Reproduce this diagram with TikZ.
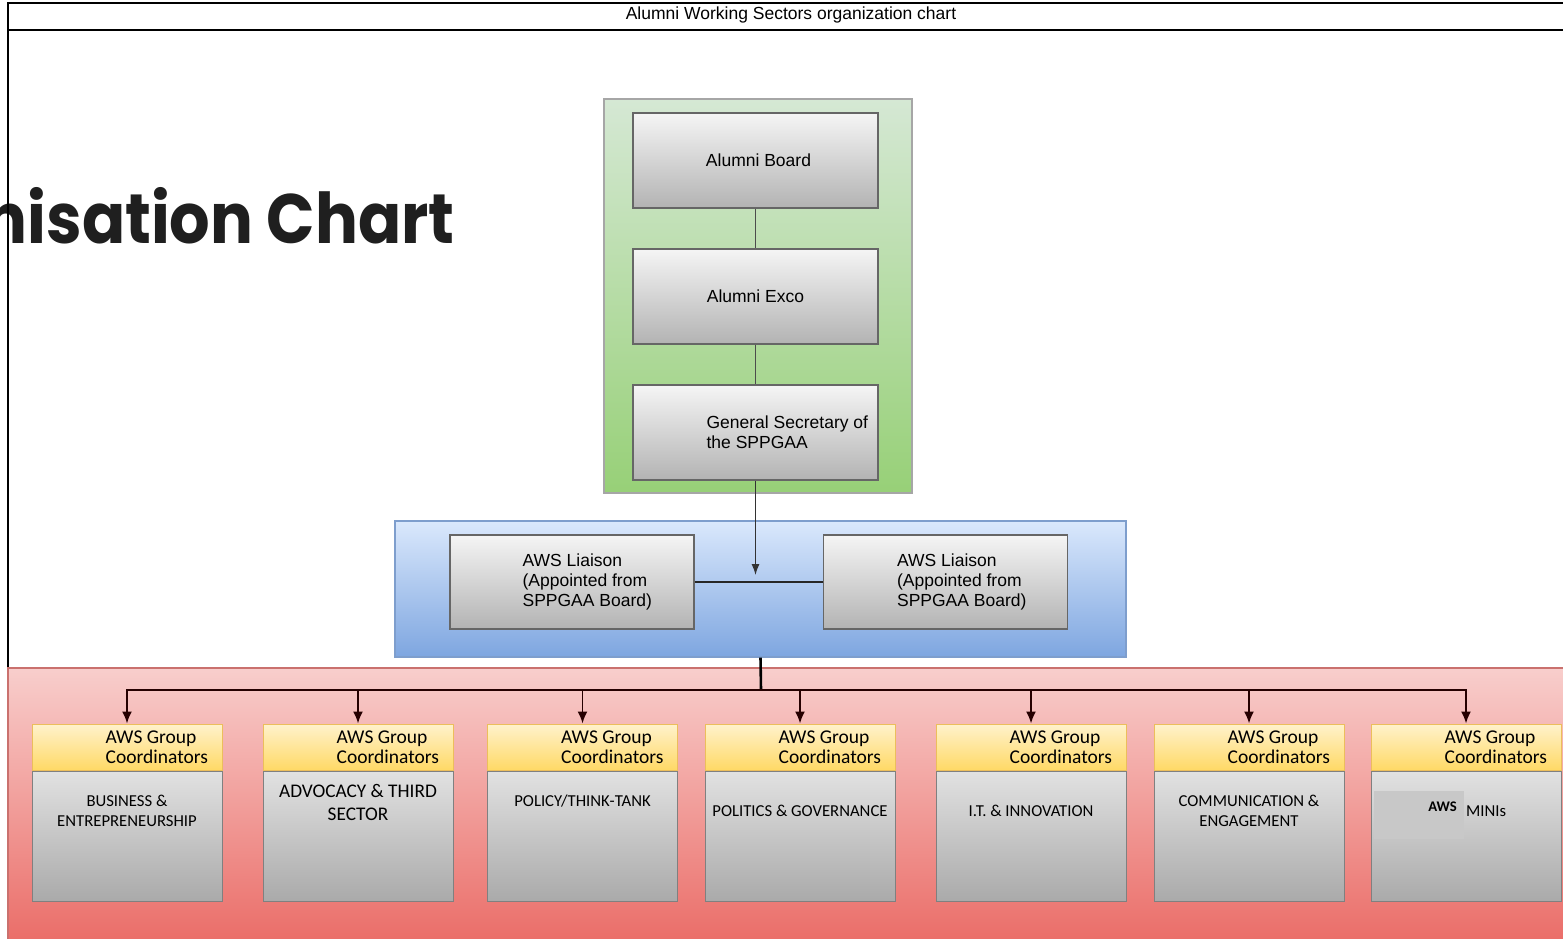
\documentclass[tikz,border=0pt]{standalone}
\usepackage{fontspec}
\setmainfont{Liberation Sans}
\newfontfamily\calfont{Carlito}
\newfontfamily\bigfont{Poppins}
\usetikzlibrary{positioning,arrows.meta}
\definecolor{grntop}{HTML}{D5E8D4}
\definecolor{grnbot}{HTML}{97D077}
\definecolor{blutop}{HTML}{DAE8FC}
\definecolor{blubot}{HTML}{7EA6E0}
\definecolor{redtop}{HTML}{F8CECC}
\definecolor{redbot}{HTML}{EA6B66}
\definecolor{yeltop}{HTML}{FFF2CC}
\definecolor{yelbot}{HTML}{FFD966}
\definecolor{boxtop}{HTML}{F5F5F5}
\definecolor{boxbot}{HTML}{B3B3B3}
\definecolor{minibox}{HTML}{C8C8C8}

\begin{document}
\begin{tikzpicture}[x=1pt,y=-1pt]

          % Setup the styles for the boxes
          \tikzset{panel/.style={rectangle,
                                 line width=1.2pt,
                                 inner sep=0pt},
                   office/.style={rectangle,
                                  draw=black!60,
                                  line width=1.2pt,
                                  top color=boxtop,
                                  bottom color=boxbot,
                                  minimum width=245pt,
                                  minimum height=95pt,
                                  inner sep=0pt,
                                  font=\fontsize{17.5}{21}\selectfont},
                   otext/.style={anchor=west, inner sep=0pt, align=left,
                                 font=\fontsize{17.5}{20}\selectfont},
                   htext/.style={anchor=west, xshift=74pt, inner sep=0pt, align=left,
                                 font=\calfont\fontsize{19.5}{20}\selectfont},
                   head/.style={rectangle,
                                draw=yelbot!70!brown,
                                line width=1pt,
                                top color=yeltop,
                                bottom color=yelbot,
                                minimum width=190pt,
                                minimum height=46pt,
                                inner sep=0pt,
                                label={[htext]west:AWS Group\\Coordinators}},
                   sector/.style={rectangle,
                                  draw=black!50,
                                  line width=1pt,
                                  top color=boxtop!92!black,
                                  bottom color=boxbot!95!black,
                                  minimum width=190pt,
                                  minimum height=130pt,
                                  inner sep=0pt},
                   btext/.style={align=center, inner sep=0pt,
                                 font=\calfont\fontsize{16.7}{20}\selectfont},
                   feed/.style={-{Latex[length=12pt,width=10pt]}, line width=1.8pt, draw=black!85!red}}
          \useasboundingbox (0,0) rectangle (1563,939);

          % Page frame and headings
          \node[anchor=base east, inner sep=0pt, text=black!88,
                font=\bigfont\bfseries\fontsize{70}{70}\selectfont] (big) at (455,243)
                {\scalebox{0.91}[1]{nisation Chart}};
          \node[font=\fontsize{17.5}{18}\selectfont] (title) at (791,15) {Alumni Working Sectors organization chart};
          \draw[line width=1.2pt] (1570,3) -- (8,3) -- (8,668);
          \draw[line width=1.2pt] (8,30) -- (1570,30);

          % Draw the containers
          \node[panel, draw=redbot!70!gray, top color=redtop, bottom color=redbot,
                minimum width=1570pt, minimum height=280pt] (sectors) at (793,808) {};
          \node[panel, draw=blubot!80!gray, top color=blutop, bottom color=blubot,
                minimum width=731pt, minimum height=136pt] (aws) at (760.5,589) {};
          \node[panel, draw=gray!70, top color=grntop, bottom color=grnbot,
                minimum width=308pt, minimum height=394pt] (alumni) at (758,296) {};

          % Draw the alumni offices
          \node[office] (ab) at (755.5,160.5) {\hspace*{6pt}Alumni Board};
          \node[office] (ax) at (755.5,296.5) {Alumni Exco};
          \node[office] (gs) at (755.5,432.5) {};
          \node[otext] (gst) at ([xshift=74pt]gs.west) {General Secretary of\\the SPPGAA};

          % Draw the liaisons
          \node[office, minimum width=244pt, minimum height=94pt] (lia1) at (572,582) {};
          \node[otext] (lia1t) at ([xshift=73pt]lia1.west) {AWS Liaison\\(Appointed from\\SPPGAA Board)};
          \node[office, minimum width=244pt, minimum height=94pt] (lia2) at (945.5,582) {};
          \node[otext] (lia2t) at ([xshift=74pt]lia2.west) {AWS Liaison\\(Appointed from\\SPPGAA Board)};

          % Draw the sector groups
          \node[head] (g1) at (127,747) {};
          \node[head] (g2) at (358,747) {};
          \node[head] (g3) at (582.5,747) {};
          \node[head] (g4) at (800,747) {};
          \node[head] (g5) at (1031,747) {};
          \node[head] (g6) at (1249,747) {};
          \node[head] (g7) at (1466,747) {};
          \node[sector, below=0pt of g1] (g1b) {};
          \node[sector, below=0pt of g2] (g2b) {};
          \node[sector, below=0pt of g3] (g3b) {};
          \node[sector, below=0pt of g4] (g4b) {};
          \node[sector, below=0pt of g5] (g5b) {};
          \node[sector, below=0pt of g6] (g6b) {};
          \node[sector, below=0pt of g7] (g7b) {};
          \node[btext] (g1t) at (127,811) {BUSINESS \&\\ENTREPRENEURSHIP};
          \node[btext, font=\calfont\fontsize{19.3}{23}\selectfont] (g2t) at (358,802.5) {ADVOCACY \& THIRD\\SECTOR};
          \node[btext] (g3t) at (582.5,801) {POLICY/THINK-TANK};
          \node[btext] (g4t) at (800,811) {POLITICS \& GOVERNANCE};
          \node[btext] (g5t) at (1031,811) {I.T. \& INNOVATION};
          \node[btext] (g6t) at (1249,811) {COMMUNICATION \&\\ENGAGEMENT};
          \node[fill=minibox, minimum width=90pt, minimum height=48pt, inner sep=0pt] (g7s) at (1419,815) {};
          \node[btext, anchor=east, font=\calfont\bfseries\fontsize{14.7}{16}\selectfont] (g7a) at (1457,807) {AWS};
          \node[btext, anchor=west] (g7t) at (1466,811) {MINIs};

          % Connect the boxes
          \draw[line width=1.4pt, draw=black!70] (ab) -- (ax);
          \draw[line width=1.4pt, draw=black!70] (ax) -- (gs);
          \draw[line width=1.4pt, draw=black!85] (lia1) -- (lia2) coordinate[pos=0.5] (join);
          \draw[-{Latex[length=11pt,width=8pt]}, line width=1.2pt, draw=black!80,
                shorten >=7pt] (gs) -- (gs |- join);
          \coordinate (bus) at (761,690);
          \draw[line width=2.6pt] (aws.south) -- (bus);
          \draw[feed] (bus) -| (g1);
          \draw[feed] (bus) -| (g2);
          \draw[feed] (bus) -| (g3);
          \draw[feed] (bus) -| (g4);
          \draw[feed] (bus) -| (g5);
          \draw[feed] (bus) -| (g6);
          \draw[feed] (bus) -| (g7);
\end{tikzpicture}
\end{document}
